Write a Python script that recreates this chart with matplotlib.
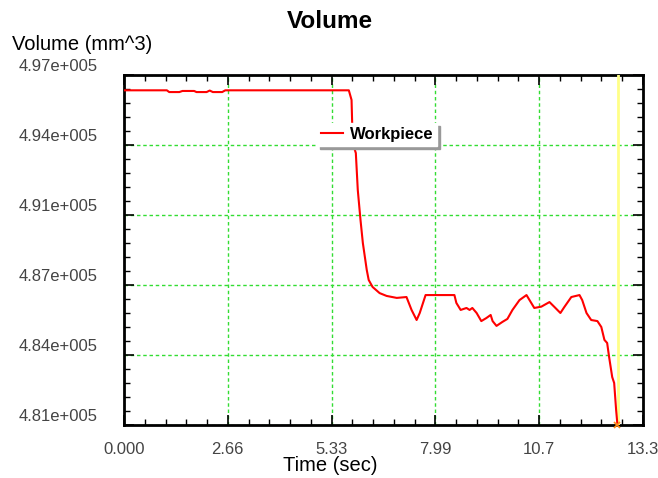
import matplotlib
matplotlib.use("Agg")
import matplotlib.pyplot as plt
import matplotlib.transforms as mtransforms
from matplotlib.ticker import AutoMinorLocator

plt.rcParams['font.family'] = ['Liberation Sans', 'DejaVu Sans']

# Workpiece volume over time
time_s = [0.00, 1.10, 1.16, 1.42, 1.50, 1.80, 1.86, 2.12, 2.20, 2.28, 2.34, 2.52, 2.60,
          5.77, 5.84, 5.87, 5.95, 6.00, 6.07, 6.13, 6.23, 6.28, 6.38, 6.56, 6.74,
          7.00, 7.25, 7.38, 7.51, 7.59, 7.74, 8.48, 8.53, 8.64, 8.79, 8.87, 8.94,
          9.05, 9.17, 9.30, 9.41, 9.46, 9.56, 9.71, 9.84, 9.97, 10.15, 10.33, 10.53,
          10.71, 10.92, 11.05, 11.20, 11.30, 11.48, 11.69, 11.76, 11.87, 11.99,
          12.15, 12.25, 12.33, 12.40, 12.45, 12.53, 12.58, 12.63, 12.66]
volume = [496300, 496300, 496220, 496220, 496270, 496270, 496220, 496220, 496290, 496220,
          496220, 496220, 496300,
          496300, 495860, 493890, 493430, 491740, 490370, 489320, 488090, 487630, 487310,
          487030, 486900, 486810, 486850, 486260, 485800, 486120, 486940, 486940, 486580,
          486260, 486350, 486260, 486350, 486120, 485750, 485890, 486030, 485750, 485530,
          485710, 485850, 486260, 486710, 486940, 486350, 486410, 486620, 486390, 486120,
          486390, 486850, 486940, 486710, 486120, 485800, 485750, 485480, 484890, 484750,
          484110, 483190, 482920, 481690, 481090]

current_step = 12.685

x_ticks = [0.0, 2.664, 5.328, 7.992, 10.656, 13.32]
x_labels = ['0.000', '2.66', '5.33', '7.99', '10.7', '13.3']
y_ticks = [481000, 484200, 487400, 490600, 493800, 497000]
y_labels = ['4.81e+005', '4.84e+005', '4.87e+005', '4.91e+005', '4.94e+005', '4.97e+005']

fig = plt.figure(figsize=(6.58, 4.78), dpi=100)
ax = fig.add_axes([124 / 658, 53 / 478, 519 / 658, 350 / 478])

ax.plot(time_s, volume, color='red', lw=1.5, label='Workpiece', zorder=4)
ax.axvline(current_step, color='#ffff88', lw=2, zorder=3)
ax.plot(time_s[-1], y_ticks[0], marker='x', color='#ff8c1a', ms=4, mew=1.2,
        clip_on=False, zorder=5)

ax.set_xlim(x_ticks[0], x_ticks[-1])
ax.set_ylim(y_ticks[0], y_ticks[-1])
ax.set_xticks(x_ticks)
ax.set_xticklabels(x_labels)
ax.set_yticks(y_ticks)
ax.set_yticklabels(y_labels)
ax.xaxis.set_minor_locator(AutoMinorLocator(5))
ax.yaxis.set_minor_locator(AutoMinorLocator(5))

ax.tick_params(which='both', direction='in', top=True, right=True,
               colors='black', labelcolor='#444444', labelsize=12)
ax.tick_params(which='major', length=7, width=1.2, pad=12)
ax.tick_params(which='minor', length=4, width=1.0)
ax.tick_params(axis='y', which='major', pad=19)

# value labels sit a little above their gridlines
offset = mtransforms.ScaledTranslation(0, 10 / 100, fig.dpi_scale_trans)
for lbl in ax.get_yticklabels():
    lbl.set_transform(lbl.get_transform() + offset)

for s in ax.spines.values():
    s.set_linewidth(2)

ax.grid(True, which='major', color='#33dd33', lw=1.0, linestyle=(0, (2.5, 2)))

ax.set_xlabel('Time (sec)', fontsize=14.5)
ax.xaxis.set_label_coords(0.397, -0.117)
ax.xaxis.label.set_va('center')
ax.set_ylabel('Volume (mm^3)', fontsize=14.5, rotation=0, ha='left', va='center')
ax.yaxis.set_label_coords(-0.216, 1.086)

fig.suptitle('Volume', x=330 / 658, y=1 - 21 / 478, va='center',
             fontsize=17.5, fontweight='bold')

leg = ax.legend(loc='center left', bbox_to_anchor=(0.372, 0.83), frameon=True,
                fancybox=False, edgecolor='white', facecolor='white', framealpha=1,
                shadow={'color': '0.6', 'alpha': 1}, handlelength=1.3,
                handletextpad=0.4, borderpad=0.25, borderaxespad=0,
                prop={'weight': 'bold', 'size': 12})

fig.savefig('out.png', dpi=100)
